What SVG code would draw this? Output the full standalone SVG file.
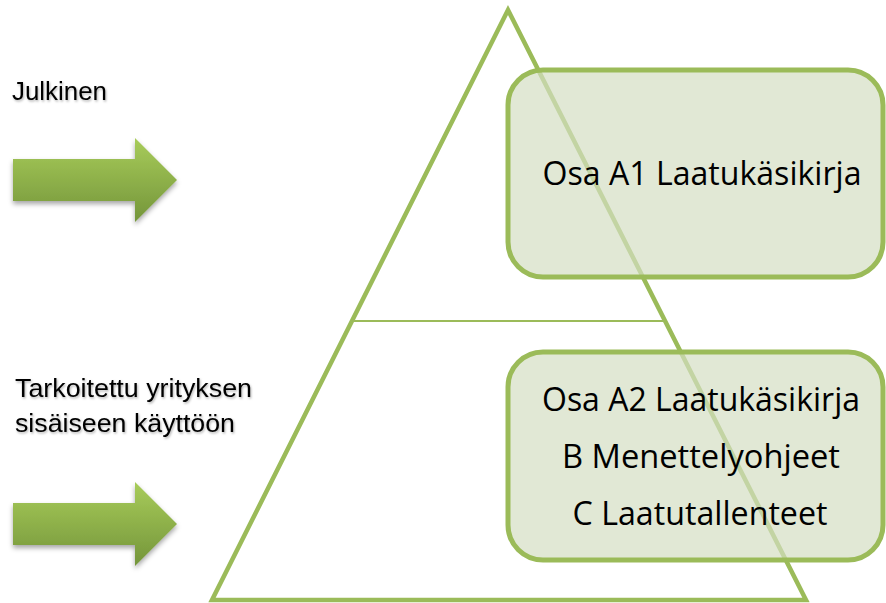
<svg xmlns="http://www.w3.org/2000/svg" width="886" height="603" viewBox="0 0 886 603">
<defs>
<linearGradient id="ag" x1="0" y1="0" x2="0" y2="1">
<stop offset="0" stop-color="#a8cc5a"/>
<stop offset="1" stop-color="#74953a"/>
</linearGradient>
<filter id="sh" x="-20%" y="-20%" width="140%" height="150%">
<feDropShadow dx="0" dy="3" stdDeviation="2.5" flood-color="#000" flood-opacity="0.35"/>
</filter>
<filter id="tsh" x="-10%" y="-30%" width="120%" height="160%">
<feDropShadow dx="1" dy="1.5" stdDeviation="1" flood-color="#000" flood-opacity="0.3"/>
</filter>
<path id="arrowShape" d="M13,-21 H135 V-42 L177,0 L135,42 V21 H13 Z"/>
</defs>
<style>
.tri{fill:none;stroke:#9bbb59;stroke-width:4.5;stroke-linejoin:miter}
.div{stroke:#9bbb59;stroke-width:2}
.box{fill:#d4dec3;fill-opacity:0.7;stroke:#9bbb59;stroke-width:5}
.bt{font-family:"Open Sans","Noto Sans",sans-serif;font-size:33px;fill:#000;text-anchor:middle}
.lt{font-family:"Liberation Sans",Arial,sans-serif;font-size:25px;fill:#000;filter:url(#tsh)}
.arrow{fill:url(#ag);filter:url(#sh)}
</style>
<rect width="886" height="603" fill="#fff"/>
<g id="connectors">
<polygon class="tri" points="508,10 212,600 806,600"/>
<line class="div" x1="353" y1="321" x2="663" y2="321"/>
</g>
<g id="arrow1"><use href="#arrowShape" class="arrow" transform="translate(0,180)"/></g>
<g id="arrow2"><use href="#arrowShape" class="arrow" transform="translate(0,524)"/></g>
<g id="label-julkinen"><text class="lt" x="12" y="100" textLength="95" lengthAdjust="spacingAndGlyphs">Julkinen</text></g>
<g id="label-sisainen">
<text class="lt" x="15" y="397" textLength="237" lengthAdjust="spacingAndGlyphs">Tarkoitettu yrityksen</text>
<text class="lt" x="15" y="432" textLength="220" lengthAdjust="spacingAndGlyphs">sisäiseen käyttöön</text>
</g>
<g id="box1">
<rect class="box" x="508" y="70" width="375" height="207" rx="35" ry="35"/>
<text class="bt" x="702" y="185" textLength="319" lengthAdjust="spacingAndGlyphs">Osa A1 Laatukäsikirja</text>
</g>
<g id="box2">
<rect class="box" x="508" y="352" width="375" height="208" rx="35" ry="35"/>
<text class="bt" x="701" y="411" textLength="318" lengthAdjust="spacingAndGlyphs">Osa A2 Laatukäsikirja</text>
<text class="bt" x="701" y="468" textLength="278" lengthAdjust="spacingAndGlyphs">B Menettelyohjeet</text>
<text class="bt" x="700" y="525" textLength="255" lengthAdjust="spacingAndGlyphs">C Laatutallenteet</text>
</g>
</svg>
